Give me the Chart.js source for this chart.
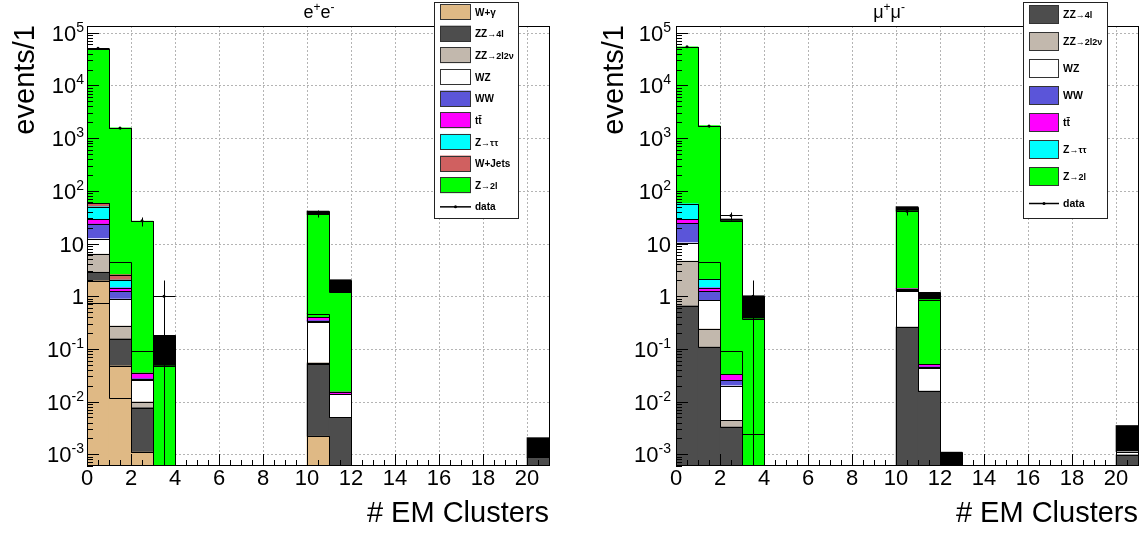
<!DOCTYPE html>
<html>
<head>
<meta charset="utf-8">
<title># EM Clusters</title>
<script src="https://cdn.jsdelivr.net/npm/chart.js@4.4.1/dist/chart.umd.min.js"></script>
<style>
  body { margin: 0; background: #fff; width: 1146px; height: 533px; overflow: hidden; }
  .pad { position: absolute; top: 0; width: 573px; height: 533px; }
</style>
</head>
<body>
<div class="pad" style="left:0"><canvas id="ee" width="573" height="533"></canvas></div>
<div class="pad" style="left:573px"><canvas id="mm" width="573" height="533"></canvas></div>
<script>
// bins of width 1 from 0 to 21, one value per bin
const xTickLabels = ['0', '2', '4', '6', '8', '10', '12', '14', '16', '18', '20']
const yDecades = [-3, -2, -1, 0, 1, 2, 3, 4, 5]

// e+e- channel
//                 0       1       2       3      4  5  6  7  8  9  10      11      12 13 14 15 16 17 18 19 20
const eeWgammaA = [0.74,   0.0115, 0.0011, 0,     0, 0, 0, 0, 0, 0, 0.0022, 0,      0, 0, 0, 0, 0, 0, 0, 0, 0]
const eeWgammaB = [1.21,   0.036,  0,      0,     0, 0, 0, 0, 0, 0, 0,      0,      0, 0, 0, 0, 0, 0, 0, 0, 0]
const eeZZ4l    = [0.9,    0.108,  0.0066, 0,     0, 0, 0, 0, 0, 0, 0.05,   0.005,  0, 0, 0, 0, 0, 0, 0, 0, 0.00087]
const eeZZ2l2nu = [3.45,   0.118,  0.0023, 0,     0, 0, 0, 0, 0, 0, 0.003,  0,      0, 0, 0, 0, 0, 0, 0, 0, 0]
const eeWZ      = [6.1,    0.61,   0.0153, 0,     0, 0, 0, 0, 0, 0, 0.27,   0.0087, 0, 0, 0, 0, 0, 0, 0, 0, 0]
const eeWW      = [11,     0.345,  0.002,  0,     0, 0, 0, 0, 0, 0, 0.02,   0,      0, 0, 0, 0, 0, 0, 0, 0, 0]
const eeTTbar   = [5.4,    0.21,   0.0075, 0,     0, 0, 0, 0, 0, 0, 0.05,   0.0015, 0, 0, 0, 0, 0, 0, 0, 0, 0]
const eeZtautau = [21,     0.58,   0,      0,     0, 0, 0, 0, 0, 0, 0,      0,      0, 0, 0, 0, 0, 0, 0, 0, 0]
const eeWjets   = [8,      0.55,   0,      0,     0, 0, 0, 0, 0, 0, 0,      0,      0, 0, 0, 0, 0, 0, 0, 0, 0]
const eeZllA    = [0,      1.8,    0.058,  0,     0, 0, 0, 0, 0, 0, 0.07,   0,      0, 0, 0, 0, 0, 0, 0, 0, 0]
const eeZllB    = [48940,  1555,   26.6,   0.047, 0, 0, 0, 0, 0, 0, 35.3,   1.17,   0, 0, 0, 0, 0, 0, 0, 0, 0]
const eeOther   = [0,      0,      0,      0.134, 0, 0, 0, 0, 0, 0, 5.5,    0.87,   0, 0, 0, 0, 0, 0, 0, 0, 0.0012]
const eeData    = [50700,  1560,   27,     1,     0, 0, 0, 0, 0, 0, 38,     0,      0, 0, 0, 0, 0, 0, 0, 0, 0]

// mu+mu- channel
//                 0       1       2       3       4  5  6  7  8  9  10     11      12      13 14 15 16 17 18 19 20
const mmZZ4l    = [0.66,   0.108,  0.0033, 0,      0, 0, 0, 0, 0, 0, 0.26,  0.0158, 0,      0, 0, 0, 0, 0, 0, 0, 0.00098]
const mmZZ2l2nu = [4.0,    0.132,  0.0011, 0,      0, 0, 0, 0, 0, 0, 0,     0,      0,      0, 0, 0, 0, 0, 0, 0, 0]
const mmWZ      = [5.7,    0.59,   0.0156, 0,      0, 0, 0, 0, 0, 0, 1.0,   0.028,  0,      0, 0, 0, 0, 0, 0, 0, 0.00014]
const mmWW      = [13.8,   0.41,   0.0053, 0,      0, 0, 0, 0, 0, 0, 0.03,  0.002,  0,      0, 0, 0, 0, 0, 0, 0, 0]
const mmTTbar   = [4.6,    0.2,    0.0075, 0,      0, 0, 0, 0, 0, 0, 0.1,   0.005,  0,      0, 0, 0, 0, 0, 0, 0, 0]
const mmZtautau = [28.2,   0.66,   0,      0,      0, 0, 0, 0, 0, 0, 0,     0,      0,      0, 0, 0, 0, 0, 0, 0, 0]
const mmZllA    = [0,      2.3,    0.06,   0.0024, 0, 0, 0, 0, 0, 0, 0,     0,      0,      0, 0, 0, 0, 0, 0, 0, 0]
const mmZllB    = [53940,  1716,   26.6,   0.368,  0, 0, 0, 0, 0, 0, 40,    0.81,   0,      0, 0, 0, 0, 0, 0, 0, 0]
const mmOther   = [0,      0,      2.5,    0.65,   0, 0, 0, 0, 0, 0, 8.7,   0.32,   0.0011, 0, 0, 0, 0, 0, 0, 0, 0.0024]
const mmData    = [54000,  1700,   34,     1,      0, 0, 0, 0, 0, 0, 41,    0,      0,      0, 0, 0, 0, 0, 0, 0, 0]

const colors = {
    wgamma: '#dfb985', zz4l: '#4d4d4d', zz2l2nu: '#c2b8ad', wz: '#ffffff', ww: '#5b55d9',
    ttbar: '#ff00ff', ztautau: '#00ffff', wjets: '#d06060', zll: '#00ff00', other: '#000000'
}

// stacking order, bottom first; only one piece per sample goes in the legend
const eeStack = [
    {label: 'W+γ', color: colors.wgamma, values: eeWgammaA, legend: true},
    {label: 'W+γ', color: colors.wgamma, values: eeWgammaB},
    {label: 'ZZ→4l', color: colors.zz4l, values: eeZZ4l, legend: true},
    {label: 'ZZ→2l2ν', color: colors.zz2l2nu, values: eeZZ2l2nu, legend: true},
    {label: 'WZ', color: colors.wz, values: eeWZ, legend: true},
    {label: 'WW', color: colors.ww, values: eeWW, legend: true},
    {label: 'tt̄', color: colors.ttbar, values: eeTTbar, legend: true},
    {label: 'Z→ττ', color: colors.ztautau, values: eeZtautau, legend: true},
    {label: 'W+Jets', color: colors.wjets, values: eeWjets, legend: true},
    {label: 'Z→2l', color: colors.zll, values: eeZllA},
    {label: 'Z→2l', color: colors.zll, values: eeZllB, legend: true},
    {label: 'other', color: colors.other, values: eeOther}
]
const mmStack = [
    {label: 'ZZ→4l', color: colors.zz4l, values: mmZZ4l, legend: true},
    {label: 'ZZ→2l2ν', color: colors.zz2l2nu, values: mmZZ2l2nu, legend: true},
    {label: 'WZ', color: colors.wz, values: mmWZ, legend: true},
    {label: 'WW', color: colors.ww, values: mmWW, legend: true},
    {label: 'tt̄', color: colors.ttbar, values: mmTTbar, legend: true},
    {label: 'Z→ττ', color: colors.ztautau, values: mmZtautau, legend: true},
    {label: 'Z→2l', color: colors.zll, values: mmZllA},
    {label: 'Z→2l', color: colors.zll, values: mmZllB, legend: true},
    {label: 'other', color: colors.other, values: mmOther}
]

const FONT = '"Liberation Sans", Arial, Helvetica, sans-serif'

const panelSetup = {
    ee: {
        title: [['e', 0], ['+', 1], ['e', 0], ['-', 1]], titleX: 319,
        labelRight: 84, yTitleX: 34,
        legend: {left: 434, top: 2, right: 518, bottom: 218, swLeft: 440, swRight: 471, swH: 16, textX: 475, firstY: 12, step: 21.65, size: 10}
    },
    mm: {
        title: [['μ', 0], ['+', 1], ['μ', 0], ['-', 1]], titleX: 316,
        labelRight: 98, yTitleX: 50,
        legend: {left: 450, top: 2, right: 534, bottom: 218, swLeft: 456, swRight: 486, swH: 19, textX: 490, firstY: 14.5, step: 27, size: 10.5}
    }
}

// draws a run of [text, font, dy] pieces starting at x (or ending at x)
function drawParts(ctx, parts, x, base, align) {
    let w = 0
    parts.forEach(([t, f]) => { ctx.font = f; w += ctx.measureText(t).width })
    let cx = align == 'right' ? x - w : align == 'center' ? x - w / 2 : x
    ctx.textAlign = 'left'
    parts.forEach(([t, f, dy]) => {
        ctx.font = f
        ctx.fillText(t, cx, base + (dy || 0))
        cx += ctx.measureText(t).width
    })
}

const crisp = v => Math.round(v) + 0.5

const rootStyle = {
    id: 'rootStyle',
    beforeDatasetsDraw(chart) {
        const {ctx, chartArea: a, scales: {x, y}} = chart
        ctx.save()
        ctx.strokeStyle = '#b4b4b4'
        ctx.lineWidth = 1
        ctx.setLineDash([2, 2])
        ctx.beginPath()
        xTickLabels.forEach(t => {
            if (+t <= 0) return
            const px = crisp(x.getPixelForValue(+t))
            ctx.moveTo(px, a.top); ctx.lineTo(px, a.bottom)
        })
        yDecades.forEach(n => {
            const py = crisp(y.getPixelForValue(Math.pow(10, n)))
            ctx.moveTo(a.left, py); ctx.lineTo(a.right, py)
        })
        ctx.stroke()
        ctx.restore()
    },
    afterDatasetsDraw(chart) {
        const {ctx, chartArea: a, scales: {x, y}} = chart
        const bars = chart.data.datasets.filter(d => d.type != 'line')
        const yPix = v => v > 0 ? crisp(y.getPixelForValue(v)) : a.bottom + 2
        ctx.save()
        ctx.beginPath()
        ctx.rect(a.left, a.top, a.right - a.left, a.bottom - a.top)
        ctx.clip()
        // step outline of every cumulative histogram in the stack
        ctx.strokeStyle = '#000'
        ctx.lineWidth = 1
        const cum = bars[0].data.map(() => 0)
        bars.forEach(ds => {
            ds.data.forEach((p, i) => { cum[i] += p.y || 0 })
            ctx.beginPath()
            ctx.moveTo(crisp(x.getPixelForValue(0)), a.bottom + 2)
            cum.forEach((c, i) => {
                const py = yPix(c)
                ctx.lineTo(crisp(x.getPixelForValue(i)), py)
                ctx.lineTo(crisp(x.getPixelForValue(i + 1)), py)
            })
            ctx.lineTo(crisp(x.getPixelForValue(cum.length)), a.bottom + 2)
            ctx.stroke()
        })
        // data error bars (sqrt N) with bin-width horizontal bars
        const obs = chart.data.datasets.find(d => d.type == 'line')
        ctx.lineWidth = 1
        obs.data.forEach(p => {
            const n = p.y
            if (!n) return
            const e = Math.sqrt(n)
            const px = crisp(x.getPixelForValue(p.x))
            const py = yPix(n)
            ctx.beginPath()
            ctx.moveTo(crisp(x.getPixelForValue(p.x - 0.5)), py)
            ctx.lineTo(crisp(x.getPixelForValue(p.x + 0.5)), py)
            ctx.moveTo(px, yPix(n + e))
            ctx.lineTo(px, n - e > 0 ? yPix(n - e) : a.bottom + 2)
            ctx.stroke()
        })
        ctx.restore()
    },
    afterDraw(chart) {
        const {ctx, chartArea: a, scales: {x, y}} = chart
        const setup = panelSetup[chart.canvas.id]
        ctx.save()
        ctx.fillStyle = '#000'
        ctx.strokeStyle = '#000'
        ctx.setLineDash([])

        // frame
        ctx.lineWidth = 1
        ctx.strokeRect(a.left + 0.5, a.top + 0.5, a.right - a.left, a.bottom - a.top - 1)

        // ticks, pointing into the frame
        ctx.beginPath()
        for (let v = 0; v <= 21; v += 0.5) {
            const px = crisp(x.getPixelForValue(v))
            const len = v % 2 == 0 ? 12 : 6
            ctx.moveTo(px, a.bottom); ctx.lineTo(px, a.bottom - len)
        }
        for (let n = -4; n <= 5; n++) {
            for (let m = 1; m <= 9; m++) {
                const v = m * Math.pow(10, n)
                if (v < y.min || v > y.max) continue
                const py = crisp(y.getPixelForValue(v))
                ctx.moveTo(a.left, py); ctx.lineTo(a.left + (m == 1 ? 12 : 6), py)
            }
        }
        ctx.stroke()

        // axis labels
        const tickFont = `22px ${FONT}`
        const supFont = `14px ${FONT}`
        ctx.font = tickFont
        ctx.textAlign = 'center'
        ctx.textBaseline = 'alphabetic'
        xTickLabels.forEach(t => ctx.fillText(t, x.getPixelForValue(+t), 485))
        yDecades.forEach(n => {
            const py = y.getPixelForValue(Math.pow(10, n))
            const parts = n == 0 ? [['1', tickFont]] : n == 1 ? [['10', tickFont]]
                : [['10', tickFont], [String(n), supFont, -9]]
            drawParts(ctx, parts, setup.labelRight, py + 8, 'right')
        })

        // axis titles
        ctx.font = `29px ${FONT}`
        ctx.textAlign = 'right'
        ctx.fillText('# EM Clusters', a.right, 522)
        ctx.save()
        ctx.translate(setup.yTitleX, a.top - 1)
        ctx.rotate(-Math.PI / 2)
        ctx.fillText('events/1', 0, 0)
        ctx.restore()

        // pad title
        drawParts(ctx, setup.title.map(([t, s]) => s ? [t, `12px ${FONT}`, -7] : [t, `18px ${FONT}`]),
            setup.titleX, 18, 'center')

        // legend box
        const L = setup.legend
        ctx.fillStyle = '#fff'
        ctx.fillRect(L.left, L.top, L.right - L.left, L.bottom - L.top)
        ctx.strokeStyle = '#222'
        ctx.strokeRect(L.left + 0.5, L.top + 0.5, L.right - L.left, L.bottom - L.top)
        const entries = chart.data.datasets.filter(d => d.legendEntry)
        const big = `bold ${L.size}px ${FONT}`
        const small = `bold ${Math.round(L.size * 0.85)}px ${FONT}`
        entries.forEach((d, i) => {
            const cy = L.firstY + i * L.step
            ctx.fillStyle = d.backgroundColor
            ctx.fillRect(L.swLeft, cy - L.swH / 2, L.swRight - L.swLeft, L.swH)
            ctx.strokeStyle = '#333'
            ctx.strokeRect(L.swLeft + 0.5, Math.round(cy - L.swH / 2) + 0.5, L.swRight - L.swLeft - 1, L.swH - 1)
            ctx.fillStyle = '#000'
            const k = d.label.indexOf('→')
            const parts = k < 0 ? [[d.label, big]] : [[d.label.slice(0, k), big], [d.label.slice(k), small]]
            drawParts(ctx, parts, L.textX, cy + L.size * 0.36, 'left')
        })
        const cy = L.firstY + entries.length * L.step
        ctx.strokeStyle = '#000'
        ctx.lineWidth = 1.5
        ctx.beginPath()
        ctx.moveTo(L.swLeft, cy); ctx.lineTo(L.swRight, cy)
        ctx.stroke()
        ctx.beginPath()
        ctx.arc((L.swLeft + L.swRight) / 2, cy, 1.5, 0, Math.PI * 2)
        ctx.fillStyle = '#000'
        ctx.fill()
        drawParts(ctx, [['data', big]], L.textX, cy + L.size * 0.36, 'left')
        ctx.restore()
    }
}

function binPoints(values) {
    return values.map((v, i) => ({x: i + 0.5, y: v > 0 ? v : null}))
}

function makePanel(id, stack, obs, padLeft, padRight) {
    const datasets = [{
        type: 'line', label: 'data', stack: 'obs', data: binPoints(obs),
        showLine: false, pointRadius: 1.5, pointBorderWidth: 0, pointBackgroundColor: '#000'
    }]
    stack.forEach(s => datasets.push({
        label: s.label, legendEntry: !!s.legend, backgroundColor: s.color,
        data: binPoints(s.values), borderWidth: 0,
        barPercentage: 1, categoryPercentage: 1, grouped: false
    }))
    return new Chart(document.getElementById(id), {
        type: 'bar',
        data: {datasets},
        options: {
            responsive: false,
            animation: false,
            layout: {padding: {left: padLeft, top: 26, right: padRight, bottom: 67}},
            scales: {
                x: {type: 'linear', min: 0, max: 21, offset: false, stacked: true, display: false},
                y: {type: 'logarithmic', min: 6.44e-4, max: 1.34e5, stacked: true, display: false}
            },
            plugins: {legend: {display: false}, tooltip: {enabled: false}}
        },
        plugins: [rootStyle]
    })
}

makePanel('ee', eeStack, eeData, 87, 24)
makePanel('mm', mmStack, mmData, 103, 8)
</script>
</body>
</html>
